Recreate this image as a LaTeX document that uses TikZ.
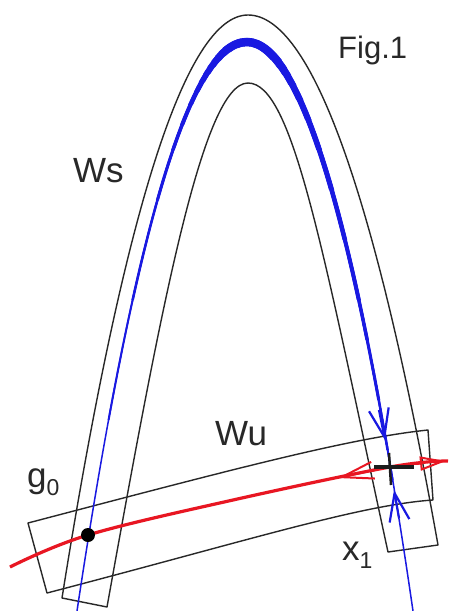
\documentclass[tikz,border=0pt]{standalone}
\usepackage{fontspec}
\setmainfont{Liberation Sans}
\usetikzlibrary{arrows.meta}

\definecolor{wsblue}{RGB}{25,25,225}
\definecolor{wured}{RGB}{232,22,34}
\definecolor{tubegray}{RGB}{40,40,40}

\newcommand{\lowsub}[1]{\raisebox{-8pt}{\fontsize{23}{23}\selectfont #1}}

\begin{document}
\begin{tikzpicture}[x=1pt, y=-1pt,
    tube/.style={draw=tubegray, line width=1.4pt, line join=round},
    wsline/.style={draw=wsblue, line width=1.5pt},
    wuline/.style={draw=wured, line width=3.2pt},
    lbl/.style={inner sep=0pt, anchor=base west, font=\fontsize{35}{40}\selectfont, text=tubegray},
    figlbl/.style={inner sep=0pt, anchor=base west, font=\fontsize{31}{36}\selectfont, text=tubegray}]
  \useasboundingbox[fill=white] (0,0) rectangle (448,611);

  \coordinate (g0) at (88,535);
  \coordinate (x1) at (390,467);

  % stable tube Ws
  \draw[tube] (62,598) .. controls (124,209) and (186,15) .. (248,15)
    .. controls (311,15) and (375,192) .. (438,545) -- (388,552)
    .. controls (323,252) and (293,83) .. (248,83)
    .. controls (203,83) and (161,307) .. (107,607) -- cycle;

  % unstable tube Wu
  \draw[tube] (28,523) .. controls (230,470) and (350,438) .. (428,430) -- (433,500)
    .. controls (360,505) and (250,540) .. (47,593) -- cycle;

  % blue manifold, thicker near the top
  \foreach \w/\yl/\yr in {1.5/700/700, 2/420/480, 2.5/300/450, 3/200/400, 3.5/150/340,
      4/125/300, 4.5/105/240, 5/92/190, 5.5/82/150, 6/74/120, 6.5/67/100,
      7/61/85, 7.5/56/75, 8/52/68, 8.5/48/60}{
    \begin{scope}
      \clip (0,0) -- (448,0) -- (448,\yr) -- (248,\yr) -- (248,\yl) -- (0,\yl) -- cycle;
      \draw[wsline, line width=\w pt] (77,611) .. controls (134,232) and (190,42) .. (247,42)
        .. controls (302,42) and (358,232) .. (413,611);
    \end{scope}
  }

  % red manifold
  \draw[wuline] plot[smooth, tension=0.6] coordinates {(10,567) (g0) (233,500) (x1) (448,461)};

  % arrows at x1
  \draw[wuline, line width=2pt, -{Straight Barb[length=32pt, width=17pt]}] (374,470) -- (338,478);
  \draw[wuline, line width=2pt, -{Triangle[open, length=26pt, width=14pt]}] (416,464) -- (446,461);
  \draw[wsline, line width=2.2pt, -{Straight Barb[length=28pt, width=20pt]}] (379,410) -- (385,440);
  \draw[wsline, line width=2.2pt, -{Straight Barb[length=28pt, width=20pt]}] (399,518) -- (394,490);

  \draw[line width=4.5pt, tubegray!70!black] (x1) ++(-16,0) -- ++(40,0);
  \draw[line width=2.5pt, tubegray!70!black] (x1) ++(-1,-14) -- ++(2,32);
  \fill[black] (g0) circle (7pt);

  % labels
  \node[lbl] (wslbl) at (73,182) {Ws};
  \node[lbl] (wulbl) at (215,445) {Wu};
  \node[lbl] (g0lbl) at (27,487) {g\lowsub{0}};
  \node[lbl] (x1lbl) at (342,560) {x\lowsub{1}};
  \node[figlbl] (figlbl) at (338,58) {Fig.1};
\end{tikzpicture}
\end{document}
